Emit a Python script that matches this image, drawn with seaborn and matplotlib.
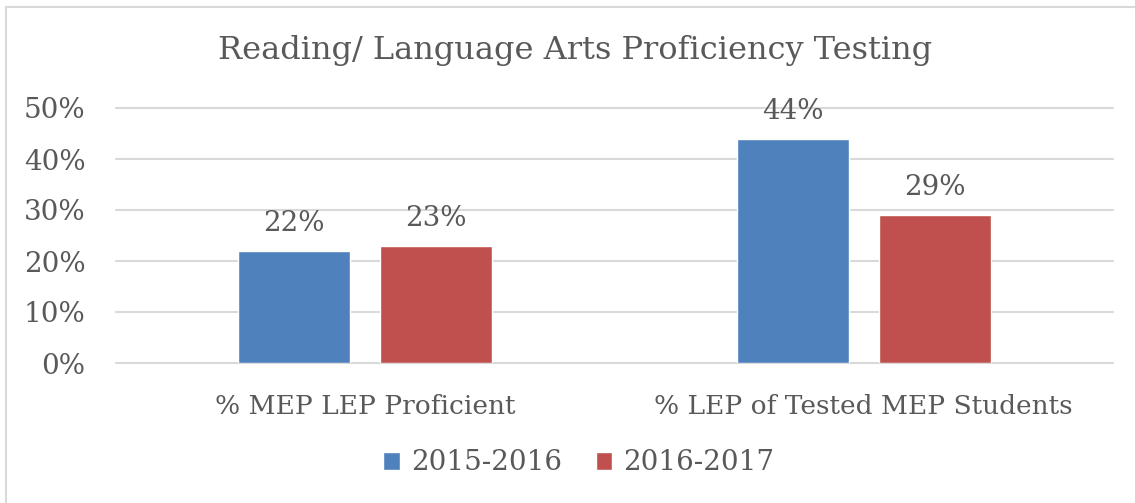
import pandas as pd
import matplotlib.pyplot as plt
import matplotlib.patches as mpatches
import seaborn as sns

# ── data ────────────────────────────────────────────────────────────────
categories = ["% MEP LEP Proficient", "% LEP of Tested MEP Students"]
years = ["2015-2016", "2016-2017"]
values_2015 = [0.22, 0.44]
values_2016 = [0.23, 0.29]
y_ticks = [0.0, 0.1, 0.2, 0.3, 0.4, 0.5]
y_tick_labels = ["0%", "10%", "20%", "30%", "40%", "50%"]

df = pd.DataFrame({
    "category": categories * 2,
    "year": [years[0]] * 2 + [years[1]] * 2,
    "value": values_2015 + values_2016,
})

# ── style ───────────────────────────────────────────────────────────────
sns.set_style("white")
plt.rcParams["font.family"] = ["DejaVu Serif"]
text_color = "#595959"
grid_color = "#D9D9D9"
palette = ["#4F81BD", "#C0504D"]

fig = plt.figure(figsize=(11.35, 5.03), dpi=100)
ax = fig.add_axes([116 / 1135, 1 - 363 / 503, (1113 - 116) / 1135, (363 - 108) / 503])

sns.barplot(data=df, x="category", y="value", hue="year", palette=palette,
            width=0.57, gap=0.21, saturation=1, ax=ax)

# data labels above each bar
for container in ax.containers:
    ax.bar_label(container, labels=[f"{v * 100:.0f}%" for v in container.datavalues],
                 padding=10, fontsize=20, color=text_color)

ax.set_ylim(0, 0.5)
ax.set_xlim(-0.5, 1.5)
ax.set_yticks(y_ticks)
ax.set_yticklabels(y_tick_labels)
ax.yaxis.grid(True, color=grid_color, linewidth=1.5, clip_on=False)
ax.set_axisbelow(True)
for s in ax.spines.values():
    s.set_visible(False)
ax.tick_params(axis="both", length=0, labelsize=20, labelcolor=text_color)
ax.tick_params(axis="x", labelsize=19, pad=22)
ax.tick_params(axis="y", pad=22)
ax.set_xlabel("")
ax.set_ylabel("")

fig.suptitle("Reading/ Language Arts Proficiency Testing", fontsize=23,
             color=text_color, x=575 / 1135, y=1 - 51 / 503, va="center")

leg = ax.legend(loc="center", bbox_to_anchor=(579 / 1135, 1 - 463 / 503),
                bbox_transform=fig.transFigure, ncol=2, frameon=False, fontsize=20,
                handlelength=0.6, handleheight=0.6, handletextpad=0.4, columnspacing=1.2)
for t in leg.get_texts():
    t.set_color(text_color)

# outer chart border
fig.patches.append(mpatches.Rectangle((6 / 1135, -0.1), 1.2, 1.1 - 7 / 503,
                                      transform=fig.transFigure, fill=False,
                                      edgecolor=grid_color, linewidth=1.5))

plt.savefig("out.png", dpi=100)
